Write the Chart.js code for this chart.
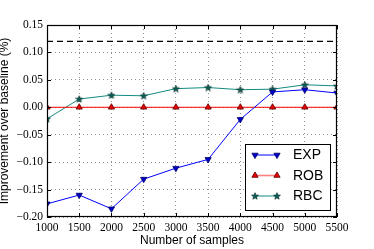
<!DOCTYPE html>
<html>
<head>
<meta charset="utf-8">
<script src="https://cdn.jsdelivr.net/npm/chart.js@4/dist/chart.umd.min.js"></script>
<style>
html,body{margin:0;padding:0;background:#fff;}
#wrap{width:374px;height:249px;}
</style>
</head>
<body>
<div id="wrap"><canvas id="c" width="374" height="249"></canvas></div>
<script>
const samples = [1000, 1500, 2000, 2500, 3000, 3500, 4000, 4500, 5000, 5500];
const expValues = [-0.176, -0.160, -0.185, -0.131, -0.111, -0.095, -0.022, 0.028, 0.032, 0.026];
const robValues = [0, 0, 0, 0, 0, 0, 0, 0, 0, 0];
const rbcValues = [-0.021, 0.015, 0.022, 0.021, 0.034, 0.036, 0.032, 0.033, 0.041, 0.039];
const refLineX = [1000, 5500];
const refLineY = [0.12, 0.12];
const seriesNames = ['EXP', 'ROB', 'RBC'];
const xTickValues = [1000, 1500, 2000, 2500, 3000, 3500, 4000, 4500, 5000, 5500];
const yTickValues = [-0.20, -0.15, -0.10, -0.05, 0.00, 0.05, 0.10, 0.15];

function makeStar(fill, stroke, size) {
  const cv = document.createElement('canvas');
  cv.width = size; cv.height = size;
  const g = cv.getContext('2d');
  const cx = size / 2, cy = size / 2 + 0.3, R = size / 2 - 0.4, r = R * 0.42;
  g.beginPath();
  for (let i = 0; i < 10; i++) {
    const a = -Math.PI / 2 + i * Math.PI / 5;
    const rr = i % 2 === 0 ? R : r;
    const px = cx + rr * Math.cos(a), py = cy + rr * Math.sin(a);
    if (i === 0) g.moveTo(px, py); else g.lineTo(px, py);
  }
  g.closePath();
  g.fillStyle = fill; g.fill();
  g.lineWidth = 0.7; g.strokeStyle = stroke; g.stroke();
  return cv;
}
const starImg = makeStar('#0b5e58', '#06302c', 8);

const pts = (xs, ys) => xs.map((x, i) => ({x: x, y: ys[i]}));

const datasets = [
  {label: seriesNames[0], data: pts(samples, expValues), borderColor: '#0000ff', borderWidth: 1,
   pointStyle: 'triangle', rotation: 180, pointRadius: 3.6, pointBackgroundColor: '#0000cc',
   pointBorderColor: '#000066', pointBorderWidth: 0.8, order: 1},
  {label: seriesNames[1], data: pts(samples, robValues), borderColor: '#ff0000', borderWidth: 1,
   pointStyle: 'triangle', rotation: 0, pointRadius: 3.6, pointBackgroundColor: '#ee0000',
   pointBorderColor: '#550000', pointBorderWidth: 0.8, order: 2, legendLine: '#ff8080'},
  {label: seriesNames[2], data: pts(samples, rbcValues), borderColor: '#138a80', borderWidth: 1,
   pointStyle: starImg, pointRadius: 4, pointBackgroundColor: '#0b5e58',
   pointBorderColor: '#06302c', order: 3},
  {label: 'ref', data: pts(refLineX, refLineY), borderColor: '#000000', borderWidth: 1.2,
   borderDash: [6, 4], pointRadius: 0, order: 4, isRef: true}
];

const overlay = {
  id: 'overlay',
  afterDraw(chart) {
    const ctx = chart.ctx, a = chart.chartArea;
    const xs = chart.scales.x, ys = chart.scales.y;
    ctx.save();
    ctx.strokeStyle = '#000'; ctx.lineWidth = 1;
    xTickValues.forEach(v => {
      const px = Math.round(xs.getPixelForValue(v)) + 0.5;
      ctx.beginPath(); ctx.moveTo(px, a.bottom); ctx.lineTo(px, a.bottom - 4);
      ctx.moveTo(px, a.top); ctx.lineTo(px, a.top + 4); ctx.stroke();
    });
    yTickValues.forEach(v => {
      const py = Math.round(ys.getPixelForValue(v)) + 0.5;
      ctx.beginPath(); ctx.moveTo(a.left, py); ctx.lineTo(a.left + 4, py);
      ctx.moveTo(a.right, py); ctx.lineTo(a.right - 4, py); ctx.stroke();
    });
    ctx.lineWidth = 1.2;
    ctx.strokeRect(Math.round(a.left) + 0.5, Math.round(a.top) + 0.5, Math.round(a.right - a.left) - 1, Math.round(a.bottom - a.top) - 1);
    ctx.fillStyle = '#000';
    ctx.font = '12px "Liberation Sans", Arial, sans-serif';
    ctx.textAlign = 'center'; ctx.textBaseline = 'middle';
    ctx.fillText('Number of samples', (a.left + a.right) / 2, 241);
    ctx.save();
    ctx.translate(5, 121); ctx.rotate(-Math.PI / 2);
    ctx.fillText('Improvement over baseline (%)', 0, 0);
    ctx.restore();
    const bx = 245.5, by = 144.5, bw = 85, bh = 66;
    ctx.fillStyle = '#fff'; ctx.fillRect(bx, by, bw, bh);
    ctx.strokeStyle = '#000'; ctx.lineWidth = 1; ctx.strokeRect(bx, by, bw, bh);
    const rows = [155, 175.5, 196];
    [0, 1, 2].forEach((di, i) => {
      const ds = chart.data.datasets[di];
      const y = rows[i];
      ctx.strokeStyle = ds.legendLine || ds.borderColor; ctx.lineWidth = ds.legendLine ? 1.6 : 1;
      ctx.beginPath(); ctx.moveTo(255, y); ctx.lineTo(277, y); ctx.stroke();
      [255, 277].forEach(px => {
        ctx.fillStyle = ds.pointBackgroundColor; ctx.strokeStyle = ds.pointBorderColor;
        ctx.lineWidth = ds.pointBorderWidth || 0.8;
        Chart.helpers.drawPoint(ctx, {pointStyle: ds.pointStyle, rotation: ds.rotation || 0,
          radius: ds.pointRadius, borderWidth: ds.pointBorderWidth || 0.8}, px, y);
      });
      ctx.fillStyle = '#000';
      ctx.font = '14px "Liberation Sans", Arial, sans-serif';
      ctx.textAlign = 'left'; ctx.textBaseline = 'middle';
      ctx.fillText(ds.label, 293, y + 0.5);
    });
    ctx.restore();
  }
};

const fmtY = v => (v < 0 ? '\u2212' : '') + Math.abs(v).toFixed(2);

new Chart(document.getElementById('c'), {
  type: 'line',
  data: {datasets: datasets},
  options: {
    responsive: false, animation: false, devicePixelRatio: 1,
    layout: {padding: {left: 0, top: 25, right: 37, bottom: 0}},
    plugins: {legend: {display: false}, tooltip: {enabled: false}},
    scales: {
      x: {
        type: 'linear', min: 1000, max: 5500,
        afterFit: s => { s.height = 32; },
        afterBuildTicks: s => { s.ticks = xTickValues.map(v => ({value: v})); },
        ticks: {padding: 4, color: '#000', maxRotation: 0, autoSkip: false,
          font: {family: "'Liberation Serif', 'DejaVu Serif', serif", size: 11.5},
          callback: v => String(v)},
        grid: {color: 'rgba(0,0,0,0.55)', lineWidth: 0.8, drawTicks: false},
        border: {display: false, dash: [1, 3]}
      },
      y: {
        type: 'linear', min: -0.20, max: 0.15,
        afterFit: s => { s.width = 47; },
        afterBuildTicks: s => { s.ticks = yTickValues.map(v => ({value: v})); },
        ticks: {padding: 4, color: '#000', autoSkip: false,
          font: {family: "'Liberation Serif', 'DejaVu Serif', serif", size: 11.5},
          callback: v => fmtY(v)},
        grid: {color: 'rgba(0,0,0,0.55)', lineWidth: 0.8, drawTicks: false},
        border: {display: false, dash: [1, 3]}
      }
    }
  },
  plugins: [overlay]
});
</script>
</body>
</html>
